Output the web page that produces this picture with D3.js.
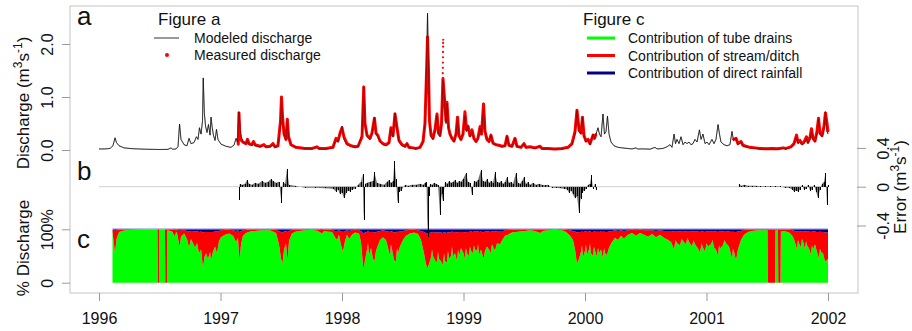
<!DOCTYPE html>
<html><head><meta charset="utf-8">
<script src="https://cdn.jsdelivr.net/npm/d3@7"></script>
<style>body{margin:0;background:#fff}svg{display:block;font-family:'Liberation Sans',Arial,sans-serif}</style>
</head><body><svg id="chart" width="912" height="331"></svg>
<script>
// ---------- DATA ----------
const yearTicks = [1996,1997,1998,1999,2000,2001,2002];
const dischargeTicks = [0,1,2];
const errorTicks = [-0.4,0,0.4];
const percentTicks = [0,100];

// modeled discharge [decimal year, m3/s]
const modeledDischarge = [
[1996.000,0.02],[1996.049,0.02],[1996.091,0.03],[1996.115,0.08],[1996.132,0.23],[1996.144,0.14],[1996.165,0.08],[1996.206,0.04],[1996.272,0.025],[1996.379,0.015],[1996.502,0.01],[1996.568,0.012],[1996.593,0.04],[1996.605,0.015],[1996.634,0.02],[1996.650,0.06],[1996.663,0.49],[1996.675,0.2],[1996.700,0.1],[1996.724,0.08],[1996.741,0.22],[1996.757,0.12],[1996.782,0.14],[1996.802,0.25],[1996.815,0.2],[1996.827,0.42],[1996.840,0.3],[1996.852,0.55],[1996.858,1.36],[1996.867,0.7],[1996.877,0.45],[1996.889,0.33],[1996.901,0.48],[1996.914,0.28],[1996.922,0.62],[1996.932,0.42],[1996.942,0.28],[1996.955,0.18],[1996.967,0.39],[1996.979,0.2],[1997.004,0.11],[1997.045,0.07],[1997.086,0.05],[1997.111,0.09],[1997.128,0.22],[1997.140,0.14],[1997.152,0.72],[1997.165,0.3],[1997.185,0.15],[1997.210,0.12],[1997.222,0.19],[1997.235,0.1],[1997.259,0.09],[1997.272,0.15],[1997.284,0.08],[1997.325,0.06],[1997.358,0.09],[1997.374,0.05],[1997.407,0.06],[1997.432,0.1],[1997.449,0.05],[1997.473,0.08],[1997.494,0.5],[1997.502,0.98],[1997.510,0.6],[1997.523,0.3],[1997.539,0.2],[1997.550,0.55],[1997.560,0.25],[1997.580,0.1],[1997.621,0.05],[1997.695,0.03],[1997.753,0.02],[1997.794,0.05],[1997.811,0.02],[1997.868,0.02],[1997.926,0.04],[1997.951,0.2],[1997.967,0.15],[1997.984,0.3],[1998.000,0.45],[1998.016,0.2],[1998.041,0.1],[1998.074,0.07],[1998.107,0.05],[1998.132,0.06],[1998.165,0.3],[1998.179,1.19],[1998.189,0.5],[1998.206,0.25],[1998.230,0.2],[1998.247,0.3],[1998.267,0.62],[1998.280,0.3],[1998.296,0.25],[1998.313,0.15],[1998.337,0.1],[1998.362,0.08],[1998.387,0.12],[1998.403,0.4],[1998.420,0.25],[1998.436,0.7],[1998.453,0.4],[1998.469,0.15],[1998.494,0.08],[1998.519,0.06],[1998.535,0.12],[1998.551,0.04],[1998.584,0.03],[1998.609,0.02],[1998.642,0.04],[1998.667,0.15],[1998.683,0.5],[1998.695,1.5],[1998.704,2.58],[1998.712,1.6],[1998.720,0.5],[1998.733,0.25],[1998.749,0.2],[1998.765,0.35],[1998.782,0.66],[1998.794,0.3],[1998.807,0.25],[1998.819,0.5],[1998.831,1.32],[1998.844,0.9],[1998.856,0.5],[1998.864,0.88],[1998.877,0.4],[1998.889,0.3],[1998.905,0.2],[1998.922,0.15],[1998.938,0.3],[1998.951,0.6],[1998.963,0.25],[1998.979,0.2],[1998.996,0.3],[1999.012,0.65],[1999.025,0.35],[1999.037,0.45],[1999.053,0.25],[1999.070,0.35],[1999.086,0.2],[1999.103,0.15],[1999.119,0.2],[1999.136,0.42],[1999.148,0.3],[1999.165,0.82],[1999.177,0.35],[1999.193,0.2],[1999.210,0.15],[1999.226,0.28],[1999.243,0.12],[1999.267,0.1],[1999.292,0.08],[1999.317,0.06],[1999.342,0.08],[1999.358,0.26],[1999.374,0.08],[1999.399,0.06],[1999.424,0.22],[1999.440,0.06],[1999.473,0.05],[1999.498,0.12],[1999.514,0.04],[1999.547,0.05],[1999.588,0.03],[1999.630,0.06],[1999.646,0.02],[1999.695,0.02],[1999.753,0.015],[1999.811,0.02],[1999.860,0.04],[1999.893,0.1],[1999.918,0.3],[1999.934,0.75],[1999.951,0.35],[1999.967,0.3],[1999.979,0.62],[1999.992,0.25],[2000.008,0.15],[2000.025,0.2],[2000.041,0.1],[2000.066,0.3],[2000.078,0.22],[2000.091,0.3],[2000.107,0.42],[2000.119,0.3],[2000.132,0.25],[2000.148,0.68],[2000.160,0.3],[2000.173,0.35],[2000.185,0.64],[2000.198,0.3],[2000.214,0.15],[2000.239,0.08],[2000.272,0.05],[2000.305,0.04],[2000.346,0.03],[2000.387,0.02],[2000.420,0.04],[2000.432,0.02],[2000.494,0.02],[2000.535,0.015],[2000.576,0.05],[2000.593,0.02],[2000.642,0.03],[2000.675,0.06],[2000.700,0.1],[2000.716,0.05],[2000.733,0.3],[2000.745,0.12],[2000.757,0.2],[2000.774,0.12],[2000.790,0.25],[2000.807,0.1],[2000.823,0.15],[2000.840,0.12],[2000.856,0.15],[2000.872,0.1],[2000.889,0.12],[2000.905,0.2],[2000.922,0.15],[2000.942,0.38],[2000.955,0.2],[2000.971,0.3],[2000.988,0.12],[2001.004,0.15],[2001.021,0.1],[2001.045,0.2],[2001.062,0.12],[2001.078,0.2],[2001.095,0.48],[2001.107,0.3],[2001.119,0.15],[2001.144,0.1],[2001.169,0.08],[2001.193,0.1],[2001.210,0.35],[2001.222,0.18],[2001.243,0.22],[2001.259,0.1],[2001.284,0.15],[2001.300,0.08],[2001.325,0.06],[2001.358,0.04],[2001.399,0.03],[2001.440,0.02],[2001.481,0.015],[2001.539,0.02],[2001.588,0.015],[2001.630,0.03],[2001.654,0.02],[2001.695,0.05],[2001.720,0.1],[2001.741,0.25],[2001.753,0.12],[2001.770,0.15],[2001.786,0.1],[2001.802,0.12],[2001.823,0.22],[2001.835,0.12],[2001.852,0.2],[2001.864,0.38],[2001.877,0.2],[2001.893,0.15],[2001.909,0.3],[2001.922,0.58],[2001.934,0.3],[2001.951,0.25],[2001.967,0.4],[2001.979,0.72],[2001.992,0.35],[2002.000,0.3]
];

// measured discharge, first period [decimal year, m3/s]
const measuredPeriod1 = [
[1997.146,0.1],[1997.152,0.7],[1997.158,0.35],[1997.165,0.2],[1997.185,0.15],[1997.210,0.12],[1997.222,0.2],[1997.235,0.12],[1997.259,0.1],[1997.272,0.16],[1997.284,0.1],[1997.325,0.07],[1997.358,0.1],[1997.374,0.06],[1997.407,0.07],[1997.432,0.12],[1997.449,0.06],[1997.473,0.08],[1997.494,0.55],[1997.502,1.0],[1997.510,0.65],[1997.523,0.3],[1997.539,0.2],[1997.550,0.58],[1997.560,0.25],[1997.580,0.1],[1997.621,0.05],[1997.695,0.03],[1997.753,0.03],[1997.794,0.06],[1997.811,0.03],[1997.868,0.03],[1997.926,0.05],[1997.951,0.22],[1997.967,0.17],[1997.984,0.32],[1998.000,0.42],[1998.016,0.25],[1998.041,0.12],[1998.074,0.08],[1998.107,0.06],[1998.132,0.07],[1998.165,0.25],[1998.179,1.19],[1998.189,0.5],[1998.206,0.28],[1998.230,0.22],[1998.247,0.32],[1998.267,0.6],[1998.280,0.32],[1998.296,0.27],[1998.313,0.17],[1998.337,0.12],[1998.362,0.1],[1998.387,0.14],[1998.403,0.42],[1998.420,0.27],[1998.436,0.68],[1998.453,0.42],[1998.469,0.18],[1998.494,0.1],[1998.519,0.07],[1998.535,0.12],[1998.551,0.05],[1998.584,0.04],[1998.609,0.03],[1998.642,0.05],[1998.667,0.16],[1998.683,0.5],[1998.695,1.4],[1998.704,2.13],[1998.712,1.5],[1998.720,0.55],[1998.733,0.28],[1998.749,0.22],[1998.765,0.38],[1998.782,0.68],[1998.794,0.32],[1998.807,0.28],[1998.819,0.5],[1998.831,1.35],[1998.844,0.95],[1998.856,0.55],[1998.864,0.9],[1998.877,0.42],[1998.889,0.3],[1998.905,0.22],[1998.922,0.17],[1998.938,0.3],[1998.951,0.62],[1998.963,0.27],[1998.979,0.2],[1998.996,0.3],[1999.012,0.72],[1999.025,0.38],[1999.037,0.45],[1999.053,0.27],[1999.070,0.38],[1999.086,0.22],[1999.103,0.16],[1999.119,0.22],[1999.136,0.44],[1999.148,0.3],[1999.165,0.87],[1999.177,0.35],[1999.193,0.2],[1999.210,0.16],[1999.226,0.28],[1999.243,0.13],[1999.267,0.1],[1999.292,0.09],[1999.317,0.07],[1999.342,0.08],[1999.358,0.26],[1999.374,0.09],[1999.399,0.07],[1999.424,0.22],[1999.440,0.07],[1999.473,0.05],[1999.498,0.12],[1999.514,0.05],[1999.547,0.06],[1999.588,0.04],[1999.630,0.07],[1999.646,0.03],[1999.695,0.03],[1999.753,0.02],[1999.811,0.03],[1999.860,0.05],[1999.893,0.12],[1999.918,0.35],[1999.934,0.75],[1999.951,0.38],[1999.967,0.32],[1999.979,0.62],[1999.992,0.27],[2000.008,0.17],[2000.025,0.2],[2000.041,0.12],[2000.066,0.28],[2000.078,0.22],[2000.091,0.3]
];
// measured discharge, second period
const measuredPeriod2 = [
[2001.220,0.2],[2001.243,0.22],[2001.259,0.12],[2001.284,0.16],[2001.300,0.09],[2001.325,0.07],[2001.358,0.05],[2001.399,0.04],[2001.440,0.03],[2001.481,0.025],[2001.539,0.03],[2001.588,0.025],[2001.630,0.04],[2001.654,0.03],[2001.695,0.06],[2001.720,0.12],[2001.741,0.28],[2001.753,0.15],[2001.770,0.18],[2001.786,0.12],[2001.802,0.15],[2001.823,0.25],[2001.835,0.15],[2001.852,0.24],[2001.864,0.4],[2001.877,0.22],[2001.893,0.17],[2001.909,0.35],[2001.922,0.6],[2001.934,0.32],[2001.951,0.27],[2001.967,0.45],[2001.979,0.7],[2001.992,0.5],[2002.000,0.35]
];
// isolated measured readings on steep rises
const measuredPeakDots = [
[1998.829,1.45],[1998.830,1.55],[1998.830,1.65],[1998.831,1.75],[1998.831,1.85],[1998.832,1.95],[1998.832,2.02],[1998.833,2.08],
[1998.703,1.7],[1998.703,1.8],[1998.704,1.9],[1998.704,2.0],[1998.705,2.06]
];

// error (m3/s) [decimal year, error]
const errorSeries = [
[1997.152,-0.14],[1997.158,0.03],[1997.177,0.02],[1997.202,0.03],[1997.218,0.07],[1997.235,0.03],[1997.259,0.02],[1997.284,0.04],[1997.309,0.03],[1997.342,0.06],[1997.366,0.04],[1997.391,0.05],[1997.416,0.08],[1997.432,0.06],[1997.457,0.04],[1997.481,0.05],[1997.502,-0.17],[1997.514,0.05],[1997.531,0.03],[1997.547,0.18],[1997.564,0.02],[1997.613,0.01],[1997.695,-0.01],[1997.778,-0.01],[1997.860,-0.015],[1997.926,-0.02],[1997.951,-0.05],[1997.967,-0.03],[1997.984,-0.08],[1998.000,-0.06],[1998.016,-0.12],[1998.033,-0.07],[1998.049,-0.04],[1998.066,-0.05],[1998.082,-0.03],[1998.107,-0.02],[1998.132,0.02],[1998.156,0.05],[1998.169,0.13],[1998.179,-0.34],[1998.189,0.03],[1998.206,0.04],[1998.230,0.05],[1998.255,0.06],[1998.267,0.15],[1998.288,0.04],[1998.313,0.03],[1998.346,0.02],[1998.370,0.05],[1998.387,0.07],[1998.403,0.04],[1998.420,0.06],[1998.432,0.27],[1998.444,0.08],[1998.457,-0.17],[1998.469,-0.05],[1998.486,-0.04],[1998.519,0.02],[1998.543,0.01],[1998.576,0.02],[1998.609,0.02],[1998.642,0.03],[1998.667,0.02],[1998.683,0.04],[1998.695,0.05],[1998.704,-0.52],[1998.712,-0.1],[1998.724,0.03],[1998.741,0.02],[1998.757,0.04],[1998.774,0.03],[1998.790,0.02],[1998.807,-0.29],[1998.819,-0.08],[1998.831,-0.15],[1998.848,0.05],[1998.864,0.03],[1998.881,0.06],[1998.897,0.04],[1998.914,0.05],[1998.930,0.07],[1998.947,0.04],[1998.963,0.06],[1998.979,0.05],[1998.996,0.08],[1999.021,0.14],[1999.037,0.05],[1999.053,0.04],[1999.070,-0.09],[1999.086,0.06],[1999.103,0.05],[1999.119,0.07],[1999.144,0.17],[1999.160,0.06],[1999.177,0.05],[1999.193,0.08],[1999.210,0.04],[1999.226,0.06],[1999.243,0.04],[1999.259,0.15],[1999.276,0.05],[1999.292,0.04],[1999.309,0.06],[1999.325,0.03],[1999.342,0.05],[1999.358,0.1],[1999.374,0.04],[1999.391,0.05],[1999.407,0.03],[1999.432,0.14],[1999.449,0.04],[1999.465,0.03],[1999.481,0.06],[1999.498,0.1],[1999.514,0.03],[1999.531,0.05],[1999.547,0.02],[1999.572,0.04],[1999.597,0.02],[1999.621,0.03],[1999.646,0.02],[1999.671,0.015],[1999.695,0.02],[1999.728,-0.01],[1999.761,-0.01],[1999.794,-0.015],[1999.827,-0.02],[1999.852,-0.03],[1999.868,-0.06],[1999.885,-0.04],[1999.901,-0.08],[1999.918,-0.12],[1999.934,-0.1],[1999.951,-0.27],[1999.963,-0.13],[1999.975,-0.06],[1999.992,-0.04],[2000.008,-0.02],[2000.025,0.02],[2000.041,0.03],[2000.053,0.12],[2000.066,-0.02],[2000.082,0.03],[2000.091,-0.03],
[2001.267,0.03],[2001.284,0.01],[2001.309,0.02],[2001.342,0.01],[2001.374,0.01],[2001.407,0.01],[2001.440,0.005],[2001.481,0.005],[2001.523,0.005],[2001.564,0.005],[2001.605,0.005],[2001.646,-0.01],[2001.679,-0.01],[2001.704,-0.03],[2001.720,-0.05],[2001.737,-0.04],[2001.753,-0.05],[2001.770,-0.03],[2001.786,0.02],[2001.802,-0.03],[2001.819,-0.02],[2001.835,0.02],[2001.852,-0.04],[2001.868,-0.03],[2001.885,0.02],[2001.901,-0.05],[2001.918,-0.12],[2001.934,-0.03],[2001.951,0.03],[2001.967,0.05],[2001.979,0.14],[2001.992,-0.19],[2002.000,0.02]
];

// contributions (%) rows: [decimal year, tube drains, stream/ditch, direct rainfall]
const contributionRows = [
[1996.111,96,4,0],[1996.123,72,26,2],[1996.132,55,42,3],[1996.144,82,16,2],[1996.165,95,5,0],[1996.214,98,2,0],[1996.296,99,1,0],[1996.420,99.5,0.5,0],[1996.481,99.5,0.5,0],[1996.484,0,100,0],[1996.494,0,100,0],[1996.497,99.5,0.5,0],[1996.543,99.5,0.5,0],[1996.546,0,100,0],[1996.560,0,100,0],[1996.563,98,2,0],[1996.601,96,4,0],[1996.626,86,12,2],[1996.634,95,5,0],[1996.642,93,6,1],[1996.663,68,29,3],[1996.675,86,12,2],[1996.700,92,7,1],[1996.724,82,15,3],[1996.741,66,30,4],[1996.757,82,15,3],[1996.774,74,23,3],[1996.790,66,30,4],[1996.807,74,23,3],[1996.823,55,40,5],[1996.840,62,34,4],[1996.856,27,67,6],[1996.868,48,47,5],[1996.881,55,40,5],[1996.897,45,50,5],[1996.914,58,37,5],[1996.922,42,53,5],[1996.938,58,37,5],[1996.955,68,28,4],[1996.971,55,41,4],[1996.988,78,19,3],[1997.004,85,13,2],[1997.037,90,9,1],[1997.070,92,7,1],[1997.103,88,10,2],[1997.128,76,21,3],[1997.144,84,14,2],[1997.156,40,55,5],[1997.169,72,25,3],[1997.185,88,10,2],[1997.210,93,6,1],[1997.243,96,4,0],[1997.284,97,3,0],[1997.342,98,2,0],[1997.407,98,2,0],[1997.457,93,6,1],[1997.481,72,25,3],[1997.498,45,50,5],[1997.510,36,58,6],[1997.523,62,34,4],[1997.539,74,23,3],[1997.551,40,55,5],[1997.564,78,19,3],[1997.588,92,7,1],[1997.621,96,4,0],[1997.695,98,2,0],[1997.753,99,1,0],[1997.802,97,3,0],[1997.835,92,6,2],[1997.852,97,3,0],[1997.868,96,4,0],[1997.918,95,4,1],[1997.942,85,12,3],[1997.959,80,17,3],[1997.975,90,8,2],[1997.992,70,26,4],[1998.008,58,37,5],[1998.025,78,19,3],[1998.041,90,8,2],[1998.058,82,15,3],[1998.082,90,8,2],[1998.107,94,5,1],[1998.140,92,6,2],[1998.156,76,21,3],[1998.177,24,68,8],[1998.189,42,52,6],[1998.206,62,33,5],[1998.214,75,22,3],[1998.222,52,43,5],[1998.239,65,30,5],[1998.255,45,50,5],[1998.267,40,54,6],[1998.280,60,35,5],[1998.296,70,26,4],[1998.313,80,17,3],[1998.337,85,13,2],[1998.362,80,17,3],[1998.379,65,31,4],[1998.395,50,45,5],[1998.403,72,25,3],[1998.412,62,34,4],[1998.428,42,52,6],[1998.444,40,54,6],[1998.453,65,31,4],[1998.461,55,40,5],[1998.477,68,28,4],[1998.502,80,17,3],[1998.527,88,10,2],[1998.560,92,7,1],[1998.593,94,5,1],[1998.626,91,7,2],[1998.650,80,17,3],[1998.675,55,40,5],[1998.691,35,58,7],[1998.704,27,65,8],[1998.716,35,58,7],[1998.733,48,46,6],[1998.741,62,33,5],[1998.749,50,45,5],[1998.765,42,52,6],[1998.782,38,56,6],[1998.790,58,37,5],[1998.798,45,49,6],[1998.815,40,54,6],[1998.831,33,60,7],[1998.840,55,40,5],[1998.848,40,54,6],[1998.864,38,55,7],[1998.872,60,35,5],[1998.881,45,49,6],[1998.897,50,44,6],[1998.905,68,28,4],[1998.914,50,45,5],[1998.930,55,40,5],[1998.947,40,54,6],[1998.955,62,33,5],[1998.963,50,45,5],[1998.979,65,30,5],[1999.000,55,40,5],[1999.012,44,50,6],[1999.020,65,30,5],[1999.029,55,40,5],[1999.045,50,45,5],[1999.053,68,28,4],[1999.062,60,36,4],[1999.078,55,40,5],[1999.086,70,26,4],[1999.095,62,34,4],[1999.111,60,36,4],[1999.120,72,25,3],[1999.128,52,43,5],[1999.144,62,34,4],[1999.165,45,49,6],[1999.177,60,36,4],[1999.193,68,28,4],[1999.210,62,34,4],[1999.226,55,40,5],[1999.234,72,25,3],[1999.243,68,28,4],[1999.259,60,36,4],[1999.276,74,23,3],[1999.300,72,25,3],[1999.325,82,15,3],[1999.342,88,10,2],[1999.366,90,9,1],[1999.399,94,5,1],[1999.432,95,5,0],[1999.465,96,4,0],[1999.506,97,3,0],[1999.547,98,2,0],[1999.588,97,3,0],[1999.630,93,6,1],[1999.654,97,3,0],[1999.695,98,2,0],[1999.753,99,1,0],[1999.811,98,2,0],[1999.844,95,4,1],[1999.877,88,10,2],[1999.901,80,17,3],[1999.918,62,34,4],[1999.934,36,58,6],[1999.951,45,50,5],[1999.967,58,37,5],[1999.975,70,26,4],[1999.984,48,47,5],[2000.000,60,36,4],[2000.008,72,25,3],[2000.016,52,43,5],[2000.033,62,34,4],[2000.041,74,23,3],[2000.049,55,40,5],[2000.066,50,45,5],[2000.074,68,28,4],[2000.082,60,36,4],[2000.099,48,47,5],[2000.107,66,30,4],[2000.115,55,40,5],[2000.132,62,34,4],[2000.148,45,50,5],[2000.157,65,31,4],[2000.165,55,40,5],[2000.181,52,43,5],[2000.198,66,30,4],[2000.222,76,21,3],[2000.247,84,14,2],[2000.272,80,17,3],[2000.296,88,10,2],[2000.321,83,14,3],[2000.354,90,8,2],[2000.387,93,6,1],[2000.420,88,10,2],[2000.453,93,6,1],[2000.486,90,8,2],[2000.519,86,12,2],[2000.551,91,7,2],[2000.584,85,12,3],[2000.617,90,8,2],[2000.650,84,13,3],[2000.683,80,17,3],[2000.708,76,21,3],[2000.733,62,34,4],[2000.745,80,17,3],[2000.757,74,23,3],[2000.782,70,26,4],[2000.795,82,15,3],[2000.807,78,19,3],[2000.831,72,24,4],[2000.843,84,13,3],[2000.856,76,21,3],[2000.881,68,28,4],[2000.893,80,17,3],[2000.905,72,24,4],[2000.930,64,32,4],[2000.947,56,39,5],[2000.959,74,23,3],[2000.971,66,30,4],[2000.988,58,37,5],[2001.000,74,23,3],[2001.012,68,28,4],[2001.037,72,24,4],[2001.050,80,17,3],[2001.062,66,30,4],[2001.078,62,34,4],[2001.095,50,45,5],[2001.103,70,26,4],[2001.111,64,32,4],[2001.136,70,26,4],[2001.148,80,17,3],[2001.160,74,23,3],[2001.185,68,28,4],[2001.210,45,50,5],[2001.218,64,32,4],[2001.226,58,37,5],[2001.243,42,53,5],[2001.259,62,34,4],[2001.284,80,17,3],[2001.309,90,9,1],[2001.342,95,5,0],[2001.374,97,3,0],[2001.424,98,2,0],[2001.473,98,2,0],[2001.502,98,2,0],[2001.505,0,100,0],[2001.565,0,100,0],[2001.568,98,2,0],[2001.588,98,2,0],[2001.591,0,100,0],[2001.609,0,100,0],[2001.612,97,3,0],[2001.654,96,4,0],[2001.687,93,6,1],[2001.712,86,12,2],[2001.728,76,21,3],[2001.745,62,34,4],[2001.753,80,17,3],[2001.761,74,23,3],[2001.778,66,30,4],[2001.786,82,15,3],[2001.794,78,19,3],[2001.811,62,34,4],[2001.819,78,19,3],[2001.827,70,26,4],[2001.844,64,32,4],[2001.860,52,43,5],[2001.868,70,26,4],[2001.877,62,34,4],[2001.893,72,24,4],[2001.909,58,37,5],[2001.926,45,50,5],[2001.934,64,32,4],[2001.942,58,37,5],[2001.959,55,40,5],[2001.975,40,54,6],[2001.992,42,52,6],[2002.000,45,49,6]
];
const contributionKeys = ["Contribution of tube drains","Contribution of stream/ditch","Contribution of direct rainfall"];
const contributionColors = ["#00ff00","#ff0000","#00008b"];

// ---------- DRAWING ----------
const svg = d3.select("#chart");
const frame = {l:70, r:858, t:6, b:293};
const x = d3.scaleLinear().domain([1996,2002]).range([99,828]);
const ya = d3.scaleLinear().domain([0,2]).range([150,44]);
const yb = d3.scaleLinear().domain([-0.4,0.4]).range([225.5,147.9]);
const yc = d3.scaleLinear().domain([0,100]).range([282.7,229.3]);
const axisGray = "#9a9a9a";

// panel c stacked area
const stack = d3.stack().keys([1,2,3]).value((row,k)=>row[k]);
const layers = stack(contributionRows);
const areaC = d3.area().x(d=>x(d.data[0])).y0(d=>yc(d[0])).y1(d=>yc(d[1]));
svg.append("g").selectAll("path").data(layers).join("path")
  .attr("d", areaC).attr("fill",(d,i)=>contributionColors[i]);
svg.append("line").attr("x1",x(contributionRows[0][0])).attr("x2",x(2002))
  .attr("y1",yc(100)-0.5).attr("y2",yc(100)-0.5).attr("stroke","#a8a8dc").attr("stroke-width",1);

// panel b zero line + spikes (with light fill between readings)
svg.append("line").attr("x1",x(1996)).attr("x2",x(2002)).attr("y1",yb(0)).attr("y2",yb(0))
  .attr("stroke","#d0d0d0").attr("stroke-width",1);
const errorArea = d3.area().x(d=>x(d[0])).y0(yb(0)).y1(d=>yb(d[1]));
const errPeriods = [errorSeries.filter(d=>d[0]<2001), errorSeries.filter(d=>d[0]>2001)];
svg.append("g").selectAll("path").data(errPeriods).join("path")
  .attr("d",errorArea).attr("fill","#000").attr("opacity",0.55);
svg.append("g").attr("shape-rendering","crispEdges").selectAll("line").data(errorSeries).join("line")
  .attr("x1",d=>Math.round(x(d[0]))+0.5).attr("x2",d=>Math.round(x(d[0]))+0.5).attr("y1",yb(0)).attr("y2",d=>yb(d[1]))
  .attr("stroke","#000").attr("stroke-width",1);

// panel a
const lineA = d3.line().x(d=>x(d[0])).y(d=>ya(d[1]));
svg.append("path").attr("d",lineA(modeledDischarge)).attr("fill","none").attr("stroke","#222").attr("stroke-width",0.8);
[measuredPeriod1, measuredPeriod2].forEach(s=>{
  svg.append("path").attr("d",lineA(s)).attr("fill","none").attr("stroke","#ff0000").attr("stroke-width",3).attr("stroke-linejoin","round");
});
svg.append("g").selectAll("circle").data(measuredPeriod1.concat(measuredPeriod2, measuredPeakDots)).join("circle")
  .attr("cx",d=>x(d[0])).attr("cy",d=>ya(d[1])).attr("r",1.1).attr("fill","#ff0000");
svg.append("path").attr("d",lineA(modeledDischarge)).attr("fill","none").attr("stroke","#000").attr("stroke-width",0.6).attr("opacity",0.55);

// frame
svg.append("rect").attr("x",frame.l).attr("y",frame.t).attr("width",frame.r-frame.l).attr("height",frame.b-frame.t)
  .attr("fill","none").attr("stroke","#c4c4c4").attr("stroke-width",1);

// axes
function styleAxis(g, rotate, off){
  g.select(".domain").remove();
  g.selectAll(".tick line").attr("stroke",axisGray);
  const t = g.selectAll(".tick text").attr("fill","#111").style("font-size","16px").attr("dy",null);
  if(rotate){
    t.attr("transform","rotate(-90)").attr("x",0).attr("y",off).attr("text-anchor","middle");
  }
}
const gA = svg.append("g").attr("transform",`translate(${frame.l},0)`)
  .call(d3.axisLeft(ya).tickValues(dischargeTicks).tickSize(8).tickFormat(d3.format(".1f")));
styleAxis(gA,true,-17);
const gC = svg.append("g").attr("transform",`translate(${frame.l},0)`)
  .call(d3.axisLeft(yc).tickValues(percentTicks).tickSize(8).tickFormat(d=>d===0?"0":d+"%"));
styleAxis(gC,true,-17);
const gB = svg.append("g").attr("transform",`translate(${frame.r-1},0)`)
  .call(d3.axisRight(yb).tickValues(errorTicks).tickSize(9).tickFormat(d=>d===0?"0":(d<0?"-":"")+Math.abs(d).toFixed(1)));
styleAxis(gB,true,32);
const gX = svg.append("g").attr("transform",`translate(0,${frame.b})`)
  .call(d3.axisBottom(x).tickValues(yearTicks).tickSize(8).tickFormat(d3.format("d")));
styleAxis(gX,false);
gX.selectAll(".tick text").attr("y",31);

// axis titles
function rotTitle(px, py, parts){
  const t = svg.append("text").attr("transform",`translate(${px},${py}) rotate(-90)`)
    .attr("text-anchor","middle").style("font-size","17px").attr("fill","#111");
  parts.forEach(p=>{
    const s = t.append("tspan").text(p[0]);
    if(p[1]) s.attr("dy",p[1]).style("font-size",p[2]||"17px");
  });
}
rotTitle(29, 103, [["Discharge (m"],["3",-7,"12px"],["s",7],["-1",-7,"12px"],[")",7]]);
rotTitle(29, 248, [["% Discharge"]]);
rotTitle(906, 187, [["Error (m"],["3",-7,"12px"],["s",7],["-1",-7,"12px"],[")",7]]);

// panel letters
[["a",25],["b",180],["c",248]].forEach(([s,y])=>{
  svg.append("text").attr("x",77).attr("y",y).text(s).style("font-size","26px").attr("fill","#111");
});

// legends
const lg = svg.append("g").style("font-size","14px").attr("fill","#111");
lg.append("text").attr("x",158).attr("y",25).text("Figure a").style("font-size","17px");
lg.append("line").attr("x1",154).attr("x2",179).attr("y1",38).attr("y2",38).attr("stroke","#333").attr("stroke-width",1);
lg.append("text").attr("x",194).attr("y",43).text("Modeled discharge");
lg.append("circle").attr("cx",167).attr("cy",55).attr("r",2).attr("fill","#ff0000");
lg.append("text").attr("x",194).attr("y",60).text("Measured discharge");
lg.append("text").attr("x",583).attr("y",25).text("Figure c").style("font-size","17px");
contributionKeys.forEach((k,i)=>{
  const cy = 38 + i*17.5;
  lg.append("line").attr("x1",587).attr("x2",615).attr("y1",cy).attr("y2",cy).attr("stroke",contributionColors[i]).attr("stroke-width",3);
  lg.append("text").attr("x",628).attr("y",cy+5).text(k);
});
</script></body></html>
